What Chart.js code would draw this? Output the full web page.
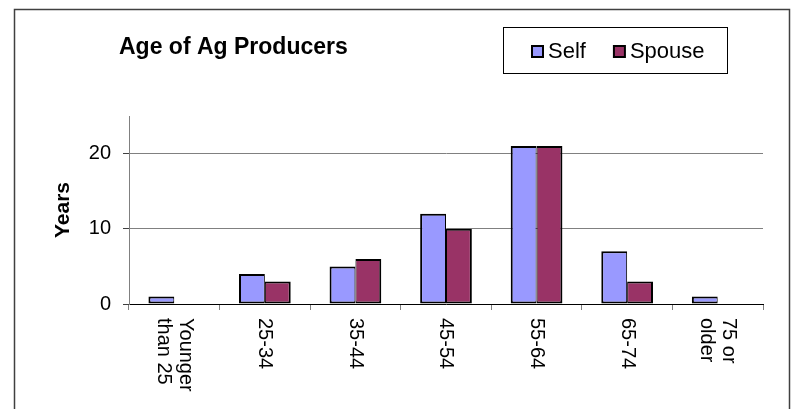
<!DOCTYPE html>
<html>
<head>
<meta charset="utf-8">
<script src="https://cdn.jsdelivr.net/npm/chart.js@4.4.1/dist/chart.umd.min.js"></script>
<style>
  html, body { margin: 0; padding: 0; background: #ffffff; }
  #wrap { width: 791px; height: 409px; position: relative; }
</style>
</head>
<body>
<div id="wrap"><canvas id="c" width="791" height="409"></canvas></div>
<script>
const TITLE = 'Age of Ag Producers';
const Y_TITLE = 'Years';
const categories = [['Younger', 'than 25'], '25-34', '35-44', '45-54', '55-64', '65-74', ['75 or', 'older']];
const seriesNames = ['Self', 'Spouse'];
const selfValues = [1, 4, 5, 12, 21, 7, 1];
const spouseValues = [0, 3, 6, 10, 21, 3, 0];
const yTickValues = [0, 10, 20];
const Y_MAX = 25;

const FONT = '"Liberation Sans", Arial, Helvetica, sans-serif';
const SELF_COLOR = '#9999FF';
const SPOUSE_COLOR = '#993366';

const decor = {
  id: 'decor',
  beforeDraw(chart) {
    const ctx = chart.ctx;
    ctx.save();
    ctx.fillStyle = '#ffffff';
    ctx.fillRect(0, 0, chart.width, chart.height);
    ctx.restore();
  },
  afterDraw(chart) {
    const ctx = chart.ctx;
    ctx.save();
    // outer chart frame
    ctx.strokeStyle = '#404040';
    ctx.lineWidth = 1.5;
    ctx.beginPath();
    ctx.moveTo(14.5, 420);
    ctx.lineTo(14.5, 9.5);
    ctx.lineTo(789.5, 9.5);
    ctx.lineTo(789.5, 420);
    ctx.stroke();

    // title
    ctx.fillStyle = '#000';
    ctx.font = 'bold 23px ' + FONT;
    ctx.textAlign = 'left';
    ctx.textBaseline = 'alphabetic';
    ctx.fillText(TITLE, 119, 54);

    // legend box
    ctx.strokeStyle = '#000';
    ctx.lineWidth = 1;
    ctx.strokeRect(503.5, 27.5, 224, 46);
    ctx.font = '22px ' + FONT;
    ctx.textBaseline = 'middle';
    let lx = 531;
    chart.data.datasets.forEach(ds => {
      ctx.fillStyle = '#000';
      ctx.fillRect(lx, 45, 13, 13);
      ctx.fillStyle = ds.backgroundColor;
      ctx.fillRect(lx + 2, 47, 9, 9);
      ctx.fillStyle = '#000';
      ctx.fillText(ds.label, lx + 17, 52);
      lx += 17 + ctx.measureText(ds.label).width + 27;
    });

    // rotated category labels (reading top to bottom)
    const xs = chart.scales.x;
    ctx.font = '20px ' + FONT;
    ctx.fillStyle = '#000';
    ctx.textAlign = 'left';
    ctx.textBaseline = 'middle';
    const lh = 22;
    chart.data.labels.forEach((lab, i) => {
      const lines = Array.isArray(lab) ? lab : [lab];
      const x = xs.getPixelForValue(i);
      const y = xs.top + 14;
      ctx.save();
      ctx.translate(x, y);
      ctx.rotate(Math.PI / 2);
      lines.forEach((ln, j) => {
        ctx.fillText(ln, 0, (j - (lines.length - 1) / 2) * lh);
      });
      ctx.restore();
    });
    ctx.restore();
  }
};

new Chart(document.getElementById('c'), {
  type: 'bar',
  data: {
    labels: categories,
    datasets: [
      {
        label: seriesNames[0],
        data: selfValues,
        backgroundColor: SELF_COLOR,
        borderColor: '#000',
        borderWidth: { top: 2, left: 2, bottom: 2, right: 1 },
        borderSkipped: false,
        categoryPercentage: 0.571,
        barPercentage: 1.0
      },
      {
        label: seriesNames[1],
        data: spouseValues,
        backgroundColor: SPOUSE_COLOR,
        borderColor: '#000',
        borderWidth: { top: 2, left: 1, bottom: 2, right: 2 },
        borderSkipped: false,
        categoryPercentage: 0.571,
        barPercentage: 1.0
      }
    ]
  },
  options: {
    responsive: false,
    animation: false,
    devicePixelRatio: 1,
    layout: { padding: { left: 14, right: 28, top: 116, bottom: 0 } },
    plugins: {
      legend: { display: false },
      title: { display: false },
      tooltip: { enabled: false }
    },
    scales: {
      x: {
        offset: true,
        grid: {
          display: true,
          offset: true,
          drawOnChartArea: false,
          drawTicks: true,
          tickLength: 6,
          color: '#808080',
          tickColor: '#808080'
        },
        border: { display: true, color: '#000', width: 1 },
        ticks: { display: false },
        afterFit(scale) { scale.height = 105; }
      },
      y: {
        min: 0,
        max: Y_MAX,
        afterBuildTicks(scale) {
          scale.ticks = yTickValues.map(v => ({ value: v }));
        },
        grid: {
          color: ctx => (ctx.tick && ctx.tick.value === 0) ? 'rgba(0,0,0,0)' : '#808080',
          tickColor: '#404040',
          tickLength: 6,
          drawTicks: true
        },
        border: { display: true, color: '#808080', width: 1 },
        ticks: {
          color: '#000',
          padding: 12,
          font: { family: FONT, size: 20 }
        },
        title: {
          display: true,
          text: Y_TITLE,
          color: '#000',
          font: { family: FONT, size: 21, weight: 'bold' },
          padding: { top: 37, bottom: 0 }
        },
        afterFit(scale) { scale.width = 115; }
      }
    }
  },
  plugins: [decor]
});
</script>
</body>
</html>
